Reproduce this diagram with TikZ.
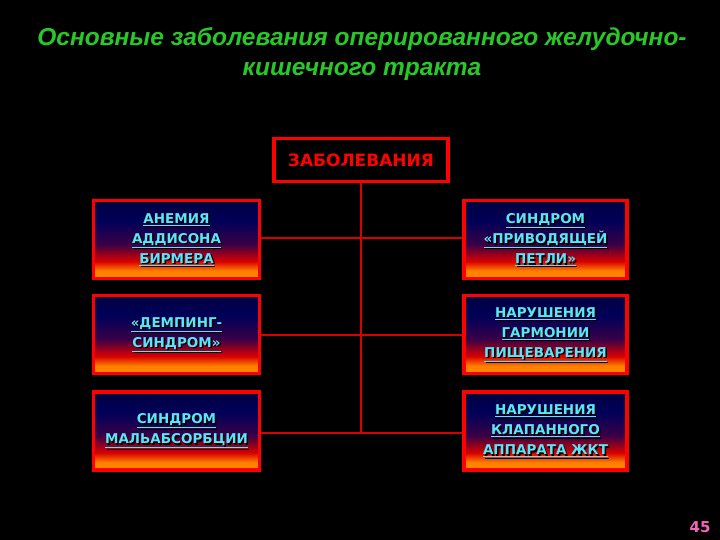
\documentclass[tikz,border=0pt]{standalone}
\usepackage{fontspec}
\setmainfont{DejaVu Sans}
\newfontfamily\titlefont{Liberation Sans}
\pgfdeclareverticalshading{boxshade}{100bp}{color(0bp)=(orange!90!yellow); color(25bp)=(orange!90!yellow); color(30bp)=(orange); color(36bp)=(red!85!black); color(47bp)=(purple!60!blue!50!black); color(62bp)=(blue!35!black); color(75bp)=(blue!25!black); color(100bp)=(blue!25!black)}
\definecolor{cyantext}{RGB}{90,230,250}
\definecolor{titlegreen}{RGB}{40,200,40}
\tikzset{
  disbox/.style={draw=red, line width=3.5pt, shading=boxshade, minimum width=166pt, minimum height=78pt, inner sep=0pt},
  lbl/.style={font=\bfseries\fontsize{13.5}{20}\selectfont, text=cyantext, align=center},
  shd/.style={font=\bfseries\fontsize{13.5}{20}\selectfont, text=black, align=center},
  conn/.style={draw=red!85!black, line width=1.5pt}
}
\newcommand{\ul}[1]{\underline{#1}}
\newcommand{\labelbox}[3]{%
  \node[shd] at ([shift={(1.5pt,-1.5pt)}]#1.center) {#3};
  \node[lbl] (#2) at (#1.center) {#3};}
\begin{document}
\begin{tikzpicture}[x=1pt,y=-1pt]
\fill[black] (0,0) rectangle (720,540);
\useasboundingbox (0,0) rectangle (720,540);
\node[font=\titlefont\bfseries\itshape\fontsize{24.5}{30}\selectfont, text=titlegreen, align=center] (title) at (362,54) {Основные заболевания оперированного желудочно-\\кишечного тракта};
\node[draw=red, line width=3.5pt, fill=black, minimum width=174pt, minimum height=43pt, font=\bfseries\fontsize{17}{20}\selectfont, text=red] (top) at (361,160) {ЗАБОЛЕВАНИЯ};
\node[disbox] (l1) at (176.5,239.5) {};
\node[disbox] (l2) at (176.5,334.5) {};
\node[disbox] (l3) at (176.5,431) {};
\node[disbox, minimum width=163pt] (r1) at (545.5,239.5) {};
\node[disbox, minimum width=163pt] (r2) at (545.5,334.5) {};
\node[disbox, minimum width=163pt] (r3) at (545.5,431) {};
\coordinate (j1) at (361,238);
\coordinate (j2) at (361,335);
\coordinate (j3) at (361,433);
\draw[conn] (top.south) -- (j3);
\draw[conn] (l1.east|-j1) -- (r1.west|-j1);
\draw[conn] (l2.east|-j2) -- (r2.west|-j2);
\draw[conn] (l3.east|-j3) -- (r3.west|-j3);
\labelbox{l1}{t1}{\ul{АНЕМИЯ}\\\ul{АДДИСОНА}\\\ul{БИРМЕРА}}
\labelbox{l2}{t2}{\ul{«ДЕМПИНГ-}\\\ul{СИНДРОМ»}}
\labelbox{l3}{t3}{\ul{СИНДРОМ}\\\ul{МАЛЬАБСОРБЦИИ}}
\labelbox{r1}{t4}{\ul{СИНДРОМ}\\\ul{«ПРИВОДЯЩЕЙ}\\\ul{ПЕТЛИ»}}
\labelbox{r2}{t5}{\ul{НАРУШЕНИЯ}\\\ul{ГАРМОНИИ}\\\ul{ПИЩЕВАРЕНИЯ}}
\labelbox{r3}{t6}{\ul{НАРУШЕНИЯ}\\\ul{КЛАПАННОГО}\\\ul{АППАРАТА ЖКТ}}
\node[font=\bfseries\fontsize{15}{17}\selectfont, text=magenta!60!white] (pg) at (700,527) {45};
\end{tikzpicture}
\end{document}
